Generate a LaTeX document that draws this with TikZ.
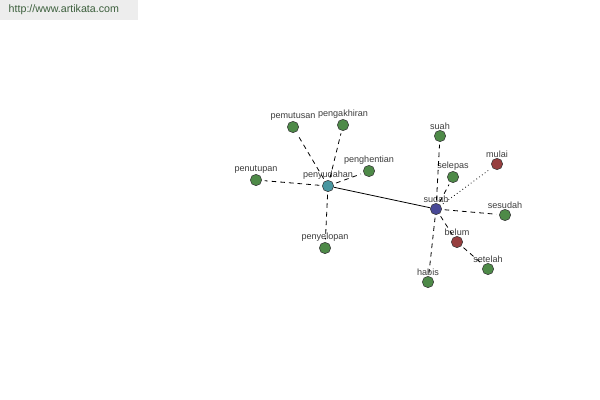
\documentclass[tikz,border=0pt]{standalone}
\usepackage{fontspec}
\setmainfont{Liberation Sans}
\usetikzlibrary{arrows.meta,calc}
\definecolor{leaf}{RGB}{78,138,72}
\definecolor{hub}{RGB}{72,150,160}
\definecolor{root}{RGB}{72,72,150}
\definecolor{anto}{RGB}{150,62,62}
\definecolor{labelgray}{RGB}{60,60,60}
\definecolor{sitegreen}{RGB}{60,95,60}
\tikzset{word/.style={circle,draw=black!80,line width=.4pt,inner sep=0pt,minimum size=8.5pt,fill=leaf},
 lbl/.style={font=\fontsize{6.8}{8}\selectfont,text=labelgray,inner sep=0pt},
 syn/.style={line width=.6pt,dash pattern=on 3.5pt off 3pt,shorten <=2pt,shorten >=2pt},
 ant/.style={dotted,line width=.6pt,shorten <=2pt,shorten >=2pt},
 every label/.style={lbl,label distance=0.3pt}}
\begin{document}
\begin{tikzpicture}[x=0.75pt,y=-0.75pt]
\useasboundingbox (0,0) rectangle (600,400);
\fill[black!7] (0,0) rectangle (138,20);
\node[anchor=west,font=\fontsize{8}{9}\selectfont,text=sitegreen] (site) at (4,10) {http://www.artikata.com};
% pusat
\node[word,fill=hub,label=above:penyudahan] (penyudahan) at (328,186) {};
\node[word,fill=root,label=above:sudah] (sudah) at (436,209) {};
% sinonim penyudahan
\node[word,label=above:pemutusan] (pemutusan) at (293,127) {};
\node[word,label=above:pengakhiran] (pengakhiran) at (343,125) {};
\node[word,label=above:penghentian] (penghentian) at (369,171) {};
\node[word,label=above:penutupan] (penutupan) at (256,180) {};
\node[word,label=above:penyelopan] (penyelopan) at (325,248) {};
% sinonim sudah
\node[word,label=above:suah] (suah) at (440,136) {};
\node[word,label=above:selepas] (selepas) at (453,177) {};
\node[word,fill=anto,label=above:mulai] (mulai) at (497,164) {};
\node[word,label=above:sesudah] (sesudah) at (505,215) {};
\node[word,fill=anto,label=above:belum] (belum) at (457,242) {};
\node[word,label=above:setelah] (setelah) at (488,269) {};
\node[word,label=above:habis] (habis) at (428,282) {};
\draw[line width=.6pt] (penyudahan)--(sudah);
\foreach \w in {pemutusan,pengakhiran,penghentian,penutupan,penyelopan}
 \draw[syn] (penyudahan)--(\w);
\foreach \w in {suah,selepas,sesudah,belum,habis}
 \draw[syn] (sudah)--(\w);
\draw[syn] (belum)--(setelah);
\draw[ant] (sudah)--(mulai);
\end{tikzpicture}
\end{document}
